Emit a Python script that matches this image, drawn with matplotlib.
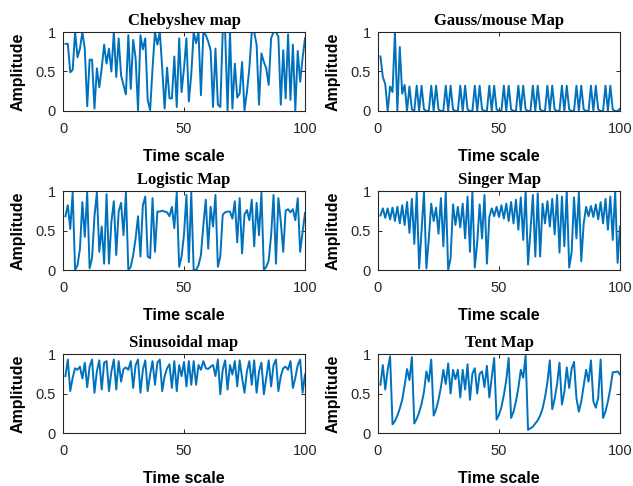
import numpy as np
import matplotlib
matplotlib.use("Agg")
import matplotlib.pyplot as plt

# 100 iterations of each chaotic map
t = np.arange(1, 101)

chebyshev = [0.85, 0.85, 0.49, 0.52, 1.00, 0.68, 0.79, 1.00, 0.79, 0.06,
             0.65, 0.65, 0.03, 0.54, 0.30, 0.54, 0.84, 0.60, 0.79, 0.50,
             1.00, 0.43, 0.92, 0.45, 0.33, 0.21, 0.96, 0.28, 0.90, 0.67,
             0.01, 0.96, 0.78, 0.92, 0.14, 0.01, 0.54, 1.00, 0.84, 1.00,
             0.54, 0.03, 0.55, 0.16, 0.16, 0.69, 0.05, 0.92, 0.24, 0.54,
             0.92, 0.12, 0.46, 1.00, 0.86, 1.00, 0.20, 1.00, 0.96, 0.88,
             0.77, 0.05, 0.79, 0.08, 0.05, 1.00, 1.00, 0.01, 1.00, 0.03,
             0.60, 0.17, 0.22, 0.62, 0.01, 0.24, 0.54, 1.00, 1.00, 0.84,
             0.08, 0.73, 0.62, 0.54, 0.33, 0.92, 1.00, 1.00, 0.94, 0.08,
             0.77, 0.16, 0.97, 0.14, 0.84, 0.01, 0.76, 0.37, 0.67, 0.92]

gauss = [0.69, 0.43, 0.34, 0.00, 0.31, 0.24, 1.00, 0.00, 0.81, 0.22,
         0.33, 0.00, 0.31, 0.02, 0.00, 0.32, 0.00, 0.32, 0.02, 0.00,
         0.00, 0.32, 0.00, 0.32, 0.02, 0.00, 0.00, 0.32, 0.00, 0.32,
         0.02, 0.00, 0.00, 0.32, 0.00, 0.32, 0.02, 0.00, 0.00, 0.32,
         0.00, 0.32, 0.02, 0.00, 0.00, 0.32, 0.00, 0.32, 0.02, 0.00,
         0.00, 0.32, 0.00, 0.32, 0.02, 0.00, 0.00, 0.32, 0.00, 0.32,
         0.02, 0.00, 0.00, 0.32, 0.00, 0.32, 0.02, 0.00, 0.00, 0.32,
         0.00, 0.32, 0.02, 0.00, 0.00, 0.32, 0.00, 0.32, 0.02, 0.00,
         0.00, 0.32, 0.00, 0.32, 0.02, 0.00, 0.00, 0.32, 0.00, 0.32,
         0.02, 0.00, 0.00, 0.32, 0.00, 0.32, 0.02, 0.00, 0.00, 0.03]

logistic = [0.68, 0.82, 0.52, 0.98, 0.00, 0.06, 0.27, 0.86, 0.42, 0.98,
            0.02, 0.15, 0.68, 0.98, 0.23, 0.55, 0.08, 0.96, 0.08, 0.61,
            0.87, 0.19, 0.74, 0.85, 0.44, 0.98, 0.00, 0.04, 0.19, 0.40,
            0.68, 0.17, 0.82, 0.93, 0.17, 0.15, 0.91, 0.23, 0.74, 0.74,
            0.75, 0.74, 0.73, 0.68, 0.80, 0.53, 0.98, 0.04, 0.17, 0.45,
            0.95, 0.10, 0.98, 0.00, 0.00, 0.06, 0.19, 0.57, 0.89, 0.27,
            0.80, 0.55, 0.95, 0.04, 0.17, 0.70, 0.73, 0.74, 0.74, 0.65,
            0.87, 0.35, 0.91, 0.21, 0.70, 0.76, 0.63, 0.89, 0.30, 0.85,
            0.44, 0.98, 0.00, 0.04, 0.12, 0.44, 0.95, 0.08, 0.91, 0.61,
            0.23, 0.75, 0.77, 0.73, 0.77, 0.63, 0.91, 0.23, 0.48, 0.72]

singer = [0.69, 0.78, 0.66, 0.78, 0.64, 0.79, 0.62, 0.80, 0.59, 0.82,
          0.57, 0.86, 0.47, 0.90, 0.33, 0.98, 0.02, 0.50, 0.99, 0.02,
          0.40, 0.84, 0.62, 0.79, 0.46, 0.91, 0.30, 0.99, 0.00, 0.15,
          0.83, 0.57, 0.80, 0.54, 0.84, 0.40, 0.93, 0.23, 0.99, 0.03,
          0.35, 0.83, 0.40, 0.95, 0.08, 0.67, 0.78, 0.68, 0.80, 0.67,
          0.82, 0.65, 0.84, 0.62, 0.86, 0.59, 0.89, 0.51, 0.92, 0.38,
          1.00, 0.07, 0.50, 0.95, 0.17, 0.97, 0.17, 0.84, 0.59, 0.87,
          0.55, 0.90, 0.45, 0.95, 0.22, 0.93, 0.30, 1.00, 0.03, 0.22,
          0.92, 0.40, 0.98, 0.11, 0.59, 0.80, 0.68, 0.81, 0.67, 0.83,
          0.64, 0.86, 0.59, 0.90, 0.51, 0.93, 0.38, 1.00, 0.09, 0.55]

sinusoidal = [0.72, 0.93, 0.53, 0.70, 0.82, 0.80, 0.84, 0.69, 0.89, 0.58,
              0.84, 0.93, 0.51, 0.78, 0.92, 0.55, 0.89, 0.91, 0.53, 0.78,
              0.93, 0.55, 0.91, 0.65, 0.81, 0.83, 0.80, 0.91, 0.57, 0.86,
              0.93, 0.51, 0.80, 0.92, 0.53, 0.74, 0.91, 0.61, 0.89, 0.93,
              0.53, 0.72, 0.82, 0.87, 0.57, 0.91, 0.53, 0.86, 0.72, 0.90,
              0.59, 0.91, 0.61, 0.91, 0.61, 0.86, 0.80, 0.91, 0.82, 0.81,
              0.84, 0.86, 0.72, 0.93, 0.49, 0.80, 0.92, 0.55, 0.86, 0.74,
              0.91, 0.59, 0.92, 0.70, 0.51, 0.78, 0.91, 0.61, 0.92, 0.51,
              0.78, 0.89, 0.49, 0.70, 0.92, 0.59, 0.86, 0.93, 0.53, 0.72,
              0.82, 0.84, 0.80, 0.91, 0.57, 0.70, 0.86, 0.93, 0.51, 0.74]

tent = [0.61, 0.86, 0.55, 0.80, 0.97, 0.11, 0.15, 0.22, 0.31, 0.42,
        0.60, 0.81, 0.67, 0.96, 0.12, 0.18, 0.26, 0.37, 0.52, 0.78,
        0.65, 0.93, 0.22, 0.30, 0.42, 0.58, 0.80, 0.62, 0.88, 0.50,
        0.80, 0.68, 0.80, 0.45, 0.80, 0.55, 0.87, 0.42, 0.75, 0.82,
        0.50, 0.75, 0.78, 0.58, 0.85, 0.45, 0.70, 0.95, 0.17, 0.23,
        0.33, 0.48, 0.67, 0.95, 0.19, 0.27, 0.40, 0.57, 0.80, 0.70,
        0.98, 0.04, 0.06, 0.08, 0.12, 0.16, 0.22, 0.31, 0.45, 0.64,
        0.92, 0.30, 0.43, 0.62, 0.89, 0.36, 0.52, 0.83, 0.57, 0.81,
        0.90, 0.44, 0.27, 0.40, 0.60, 0.80, 0.65, 0.92, 0.40, 0.32,
        0.45, 0.93, 0.19, 0.27, 0.40, 0.56, 0.77, 0.77, 0.78, 0.74]

titles = ["Chebyshev map", "Gauss/mouse Map", "Logistic Map",
          "Singer Map", "Sinusoidal map", "Tent Map"]
series = [chebyshev, gauss, logistic, singer, sinusoidal, tent]

BLUE = "#0072BD"
AX_COL = "#262626"

fig = plt.figure(figsize=(6.33, 4.86), dpi=100)
lefts = [63 / 633, 378 / 633]
bottoms = [1 - 111 / 486, 1 - 270 / 486, 1 - 433 / 486]
w, h = 242 / 633, 79 / 486

for k, (name, y) in enumerate(zip(titles, series)):
    ax = fig.add_axes([lefts[k % 2], bottoms[k // 2], w, h])
    ax.plot(t, y, color=BLUE, lw=1.4)
    ax.set_xlim(0, 100); ax.set_ylim(0, 1)
    ax.set_xticks([0, 50, 100]); ax.set_yticks([0, 0.5, 1])
    ax.set_yticklabels(["0", "0.5", "1"])
    ax.tick_params(direction="in", length=3, width=0.7, top=True, right=True,
                   labelsize=10.5, colors=AX_COL)
    ax.tick_params(axis="x", pad=8)
    ax.tick_params(axis="y", pad=5)
    for tl in ax.get_xticklabels() + ax.get_yticklabels():
        tl.set_family("Liberation Sans")
    for s in ax.spines.values():
        s.set_color(AX_COL); s.set_linewidth(0.8)
    ax.set_title(name, fontsize=12, fontweight="bold",
                 family="Liberation Serif", pad=5)
    ax.set_xlabel("Time scale", fontsize=11.5, fontweight="bold",
                  family="Liberation Sans", labelpad=9)
    ax.set_ylabel("Amplitude", fontsize=11.5, fontweight="bold",
                  family="Liberation Sans", labelpad=7)

fig.savefig("out.png", dpi=100)
